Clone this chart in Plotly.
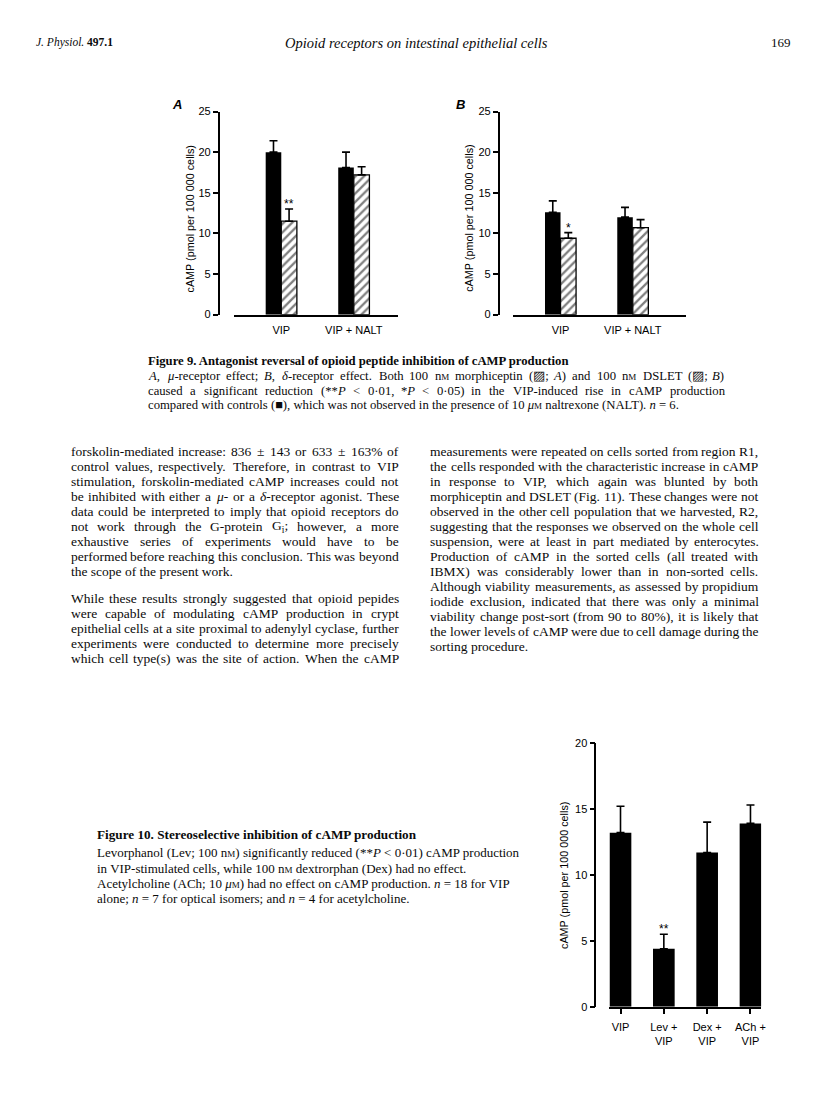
import re
import plotly.graph_objects as go

W, H = 816, 1110


def px(x):
    return x / W


def py(y):
    return 1 - y / H


# ---------------- data ----------------
fig9_categories = ["VIP", "VIP + NALT"]
a_control = [20.0, 18.1]
a_control_err = [1.4, 1.9]
a_morphiceptin = [11.5, 17.2]
a_morphiceptin_err = [1.5, 1.0]
a_sig = ["**", ""]

b_control = [12.6, 12.0]
b_control_err = [1.4, 1.2]
b_dslet = [9.4, 10.7]
b_dslet_err = [0.7, 1.0]
b_sig = ["*", ""]

fig9_yticks = [0, 5, 10, 15, 20, 25]

fig10_categories = ["VIP", "Lev +<br>VIP", "Dex +<br>VIP", "ACh +<br>VIP"]
fig10_values = [13.2, 4.4, 11.7, 13.9]
fig10_err = [2.0, 1.1, 2.3, 1.4]
fig10_sig = ["", "**", "", ""]
fig10_yticks = [0, 5, 10, 15, 20]

y_title = "cAMP (pmol per 100 000 cells)"

SERIF = "Liberation Serif, Times New Roman, serif"
SANS = "Liberation Sans, Arial, Helvetica, sans-serif"
NM = "n<span style='font-size:9px'>M</span>"
UM = "<i>μ</i><span style='font-size:9px'>M</span>"

header_left = "<i>J. Physiol.</i> <b>497.1</b>"
header_title = "<i>Opioid receptors on intestinal epithelial cells</i>"
header_page = "169"

fig9_caption_title = "<b>Figure 9. Antagonist reversal of opioid peptide inhibition of cAMP production</b>"
fig9_caption_lines = [
    f"<i>A</i>, <i>μ</i>-receptor effect; <i>B</i>, <i>δ</i>-receptor effect. Both 100 {NM} morphiceptin (▨; <i>A</i>) and 100 {NM} DSLET (▨; <i>B</i>)",
    "caused a significant reduction (**<i>P</i> &lt; 0·01, *<i>P</i> &lt; 0·05) in the VIP-induced rise in cAMP production",
    f"compared with controls (■), which was not observed in the presence of 10 {UM} naltrexone (NALT). <i>n</i> = 6.",
]

left_column = [
    ["forskolin-mediated increase: 836 ± 143 or 633 ± 163% of",
     "control values, respectively. Therefore, in contrast to VIP",
     "stimulation, forskolin-mediated cAMP increases could not",
     "be inhibited with either a <i>μ</i>- or a <i>δ</i>-receptor agonist. These",
     "data could be interpreted to imply that opioid receptors do",
     "not work through the G-protein G<sub>i</sub>; however, a more",
     "exhaustive series of experiments would have to be",
     "performed before reaching this conclusion. This was beyond",
     "the scope of the present work."],
    ["While these results strongly suggested that opioid pepides",
     "were capable of modulating cAMP production in crypt",
     "epithelial cells at a site proximal to adenylyl cyclase, further",
     "experiments were conducted to determine more precisely",
     "which cell type(s) was the site of action. When the cAMP"],
]
left_last_justified = [False, True]

right_column = [
    ["measurements were repeated on cells sorted from region R1,",
     "the cells responded with the characteristic increase in cAMP",
     "in response to VIP, which again was blunted by both",
     "morphiceptin and DSLET (Fig. 11). These changes were not",
     "observed in the other cell population that we harvested, R2,",
     "suggesting that the responses we observed on the whole cell",
     "suspension, were at least in part mediated by enterocytes.",
     "Production of cAMP in the sorted cells (all treated with",
     "IBMX) was considerably lower than in non-sorted cells.",
     "Although viability measurements, as assessed by propidium",
     "iodide exclusion, indicated that there was only a minimal",
     "viability change post-sort (from 90 to 80%), it is likely that",
     "the lower levels of cAMP were due to cell damage during the",
     "sorting procedure."],
]

fig10_caption_title = "<b>Figure 10. Stereoselective inhibition of cAMP production</b>"
fig10_caption_lines = [
    f"Levorphanol (Lev; 100 {NM}) significantly reduced (**<i>P</i> &lt; 0·01) cAMP production",
    f"in VIP-stimulated cells, while 100 {NM} dextrorphan (Dex) had no effect.",
    f"Acetylcholine (ACh; 10 {UM}) had no effect on cAMP production. <i>n</i> = 18 for VIP",
    "alone; <i>n</i> = 7 for optical isomers; and <i>n</i> = 4 for acetylcholine.",
]

# ---------------- text width helper (Times metrics) ----------------
TW = {' ': 250, 'a': 444, 'b': 500, 'c': 444, 'd': 500, 'e': 444, 'f': 333, 'g': 500, 'h': 500,
      'i': 278, 'j': 278, 'k': 500, 'l': 278, 'm': 778, 'n': 500, 'o': 500, 'p': 500, 'q': 500,
      'r': 333, 's': 389, 't': 278, 'u': 500, 'v': 500, 'w': 722, 'x': 500, 'y': 500, 'z': 444,
      'A': 722, 'B': 667, 'C': 667, 'D': 722, 'E': 611, 'F': 556, 'G': 722, 'H': 722, 'I': 333,
      'J': 389, 'K': 722, 'L': 611, 'M': 889, 'N': 722, 'O': 722, 'P': 556, 'Q': 722, 'R': 667,
      'S': 556, 'T': 611, 'U': 722, 'V': 722, 'W': 944, 'X': 722, 'Y': 722, 'Z': 611,
      '.': 250, ',': 250, ':': 278, ';': 278, '(': 333, ')': 333, '-': 333, '%': 833, '±': 564,
      '·': 250, '*': 500, '<': 564, '=': 564, 'μ': 576, 'δ': 500, '▨': 770, '■': 600}


def text_width(s, size):
    s = s.replace("&lt;", "<")
    total = 0.0
    scale = 1.0
    for tok in re.split(r'(<[^<>]+>)', s):
        if tok.startswith('<') and tok.endswith('>') and len(tok) > 2:
            if tok.startswith('<sub') or tok.startswith('<span'):
                scale = 0.72
            elif tok.startswith('</sub') or tok.startswith('</span'):
                scale = 1.0
            continue
        for ch in tok:
            total += TW.get(ch, 500) * scale
    return total / 1000.0 * size


annotations = []
TEXT_COLOR = '#0a0a0a'


def add_text(text, x, y, size, family=SERIF, xanchor='left', color=TEXT_COLOR):
    annotations.append(dict(text=text, x=px(x), y=py(y), xref='paper', yref='paper',
                            xanchor=xanchor, yanchor='middle', showarrow=False, borderpad=0,
                            font=dict(family=family, size=size, color=color)))


def split_words(line):
    # split on spaces that are not inside an html tag
    return re.split(r' (?![^<]*>)', line)


def add_justified(line, x0, x1, y, size):
    words = split_words(line)
    widths = [text_width(w, size) for w in words]
    gap = (x1 - x0 - sum(widths)) / max(len(words) - 1, 1)
    gap = max(gap, 0.2 * size)
    x = x0
    for w, wd in zip(words, widths):
        add_text(w, x, y, size)
        x += wd + gap


# ---------------- header ----------------
add_text(header_left, 35, 37, 11.5)
add_text(header_title, 419, 37, 14.5, xanchor='center')
add_text(header_page, 797, 37, 13, xanchor='right')

# ---------------- figure 9 caption ----------------
CAP = 12.7
add_text(fig9_caption_title, 148, 359, CAP)
cap_y = [374.5, 389, 403.5]
for i, line in enumerate(fig9_caption_lines):
    if i < len(fig9_caption_lines) - 1:
        add_justified(line, 148, 728, cap_y[i], CAP)
    else:
        add_text(line, 148, cap_y[i], CAP)

# ---------------- body text ----------------
BODY = 13.5
STEP = 15.2
y0 = 450
y = y0
for p, para in enumerate(left_column):
    for i, line in enumerate(para):
        last = (i == len(para) - 1) and not left_last_justified[p]
        if last:
            add_text(line, 70, y, BODY)
        else:
            add_justified(line, 70, 400, y, BODY)
        y += STEP
    y += 12
y = y0
for para in right_column:
    for i, line in enumerate(para):
        if i == len(para) - 1:
            add_text(line, 432, y, BODY)
        else:
            add_justified(line, 432, 762, y, BODY)
        y += STEP

# ---------------- figure 10 caption ----------------
add_text(fig10_caption_title, 97, 838, 13.2)
for i, line in enumerate(fig10_caption_lines):
    add_text(line, 97, [856, 871.5, 887, 902.5][i], 13)

# ---------------- charts ----------------
BW = 0.215
BW10 = 0.5


def err(arr):
    return dict(type='data', symmetric=False, array=arr, arrayminus=[0] * len(arr),
                color='black', thickness=1.6, width=4)


hatch = dict(color='white', line=dict(color='black', width=1.3),
             pattern=dict(shape='/', fgcolor='black', bgcolor='white', size=6, solidity=0.38))
solid = dict(color='black', line=dict(color='black', width=0))

fig = go.Figure()
idx9 = list(range(len(fig9_categories)))
fig.add_trace(go.Bar(x=idx9, y=a_control, width=BW, offset=-BW, marker=solid,
                     error_y=err(a_control_err), xaxis='x', yaxis='y', showlegend=False))
fig.add_trace(go.Bar(x=idx9, y=a_morphiceptin, width=BW, offset=0, marker=hatch,
                     error_y=err(a_morphiceptin_err), xaxis='x', yaxis='y', showlegend=False))
fig.add_trace(go.Bar(x=idx9, y=b_control, width=BW, offset=-BW, marker=solid,
                     error_y=err(b_control_err), xaxis='x2', yaxis='y2', showlegend=False))
fig.add_trace(go.Bar(x=idx9, y=b_dslet, width=BW, offset=0, marker=hatch,
                     error_y=err(b_dslet_err), xaxis='x2', yaxis='y2', showlegend=False))
idx10 = list(range(len(fig10_categories)))
fig.add_trace(go.Bar(x=idx10, y=fig10_values, width=BW10, marker=solid,
                     error_y=err(fig10_err), xaxis='x3', yaxis='y3', showlegend=False))

tickfont = dict(family=SANS, size=11, color='black')


def yax(top, bottom, xpos, rng, ticks):
    return dict(domain=[py(bottom), py(top)], range=rng, anchor='free', position=px(xpos),
                showline=True, linecolor='black', linewidth=1.6, ticks='outside', ticklen=5,
                tickwidth=1.5, tickcolor='black', tickvals=ticks, showgrid=False, zeroline=False,
                tickfont=tickfont, fixedrange=True)


def xax(left, right, rng, anchor, ticktext, ticks, ticklen=0):
    return dict(domain=[px(left), px(right)], range=rng, anchor=anchor, showline=True,
                linecolor='black', linewidth=1.6, ticks=ticks, ticklen=ticklen, tickwidth=1.5,
                tickcolor='black', tickvals=list(range(len(ticktext))), ticktext=ticktext,
                showgrid=False, zeroline=False, tickfont=tickfont, fixedrange=True,
                ticklabelstandoff=4)


fig.update_layout(
    width=W, height=H, margin=dict(l=0, r=0, t=0, b=0),
    paper_bgcolor='white', plot_bgcolor='rgba(0,0,0,0)', barmode='overlay',
    xaxis=xax(235, 400, [-0.658, 1.603], 'y', fig9_categories, ''),
    yaxis=yax(106.7, 312, 220, [0, 25], fig9_yticks),
    xaxis2=xax(516, 690, [-0.66, 1.733], 'y2', fig9_categories, ''),
    yaxis2=yax(106.7, 312, 501.7, [0, 25], fig9_yticks),
    xaxis3=xax(613, 766, [-0.26, 3.25], 'y3', fig10_categories, 'outside', 5),
    yaxis3=yax(745, 1011.7, 599, [0, 20], fig10_yticks),
)

# significance stars
star_font = dict(family=SANS, size=12, color='black')
for i, s in enumerate(a_sig):
    if s:
        annotations.append(dict(text=s, x=i + BW / 2, y=a_morphiceptin[i] + a_morphiceptin_err[i],
                                xref='x', yref='y', yanchor='bottom', showarrow=False, yshift=-4,
                                font=star_font))
for i, s in enumerate(b_sig):
    if s:
        annotations.append(dict(text=s, x=i + BW / 2, y=b_dslet[i] + b_dslet_err[i],
                                xref='x2', yref='y2', yanchor='bottom', showarrow=False, yshift=-4,
                                font=star_font))
for i, s in enumerate(fig10_sig):
    if s:
        annotations.append(dict(text=s, x=i, y=fig10_values[i] + fig10_err[i],
                                xref='x3', yref='y3', yanchor='bottom', showarrow=False, yshift=-4,
                                font=star_font))

# y-axis titles and panel labels
for (xc, yc) in [(191, 215), (472, 215), (568, 879)]:
    annotations.append(dict(text=y_title, x=px(xc), y=py(yc), xref='paper', yref='paper',
                            textangle=-90, showarrow=False, xanchor='center', yanchor='middle',
                            font=dict(family=SANS, size=10.8, color='black')))
add_text("<b><i>A</i></b>", 178, 100, 13, family=SANS, xanchor='center', color='black')
add_text("<b><i>B</i></b>", 463, 100, 13, family=SANS, xanchor='center', color='black')

fig.update_layout(annotations=annotations)
fig.write_html("out.html", config={'displayModeBar': False},
               post_script="document.body.style.margin='0';document.body.style.overflow='hidden';")
